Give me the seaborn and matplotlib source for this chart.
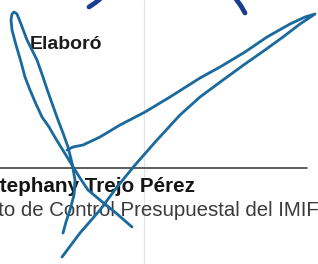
import matplotlib
matplotlib.use("Agg")
import matplotlib.pyplot as plt
import seaborn as sns
import pandas as pd

# ---- data (pixel space: x right, y down) ----
loop_x = [132, 116, 100, 88, 80, 72, 64, 56, 49, 42, 36, 30, 25, 21, 16, 12, 11, 12, 14, 17,
          21, 27, 33, 37, 43, 48, 53, 58, 63, 68, 72, 75, 74, 70, 66, 63]
loop_y = [227, 213, 200, 190, 178, 165, 152, 139, 127, 117, 104, 90, 77, 62, 45, 30, 20, 14, 12, 14,
          24, 40, 52, 60, 77, 92, 106, 120, 133, 147, 163, 180, 195, 210, 222, 233]

sweep_x = [67, 73, 83, 100, 120, 145, 170, 200, 220, 245, 267, 290, 305, 315,
           300, 283, 265, 245, 223, 200, 180, 157, 135, 117, 100, 80, 62]
sweep_y = [150, 147, 145, 137, 125, 112, 97, 78, 67, 52, 37, 24, 17, 14,
           24, 37, 50, 64, 80, 97, 115, 140, 165, 187, 210, 233, 257]

dash1_x = [89, 95, 100]
dash1_y = [7, 3, -1]
dash2_x = [236, 241, 245]
dash2_y = [-1, 6, 13]

label_top = "Elaboró"
label_name = "Stephany Trejo Pérez"
label_role = "Departamento de Control Presupuestal del IMIF"

# ---- figure ----
sns.set_theme(style="white")
plt.rcParams["font.family"] = ["Liberation Sans", "DejaVu Sans"]

W, H, DPI = 318, 264, 100
fig = plt.figure(figsize=(W / DPI, H / DPI), dpi=DPI, facecolor="white")
ax = fig.add_axes([0, 0, 1, 1])
ax.set_xlim(0, W)
ax.set_ylim(H, 0)
ax.axis("off")

px = 72 / DPI  # points per pixel

# faint vertical fold line
ax.axvline(144, color="#e2e2e2", lw=1.2 * px, zorder=0)

# signature line
ax.plot([0, 307], [168, 168], color="#3a3a3a", lw=1.6 * px, zorder=1)

# texts
ax.text(30, 49, label_top, fontsize=19.5 * px, fontweight="bold", color="#1c1c1c",
        ha="left", va="baseline", zorder=2)
ax.text(-14, 192, label_name, fontsize=20.6 * px, fontweight="bold", color="#151515",
        ha="left", va="baseline", zorder=2)
ax.text(318.5, 216, label_role, fontsize=20.35 * px, color="#3a3a3a",
        ha="right", va="baseline", zorder=2)

# signature strokes
sig_color = "#1a6a9e"
for xs, ys in [(loop_x, loop_y), (sweep_x, sweep_y)]:
    df = pd.DataFrame({"x": xs, "y": ys})
    sns.lineplot(data=df, x="x", y="y", sort=False, estimator=None, ax=ax,
                 color=sig_color, linewidth=2.8 * px, solid_capstyle="round",
                 solid_joinstyle="round", zorder=3)

for xs, ys in [(dash1_x, dash1_y), (dash2_x, dash2_y)]:
    df = pd.DataFrame({"x": xs, "y": ys})
    sns.lineplot(data=df, x="x", y="y", sort=False, estimator=None, ax=ax,
                 color="#1b3d8f", linewidth=4.8 * px, solid_capstyle="round", zorder=3)

ax.set_xlim(0, W)
ax.set_ylim(H, 0)
ax.axis("off")
fig.savefig("out.png", dpi=DPI, facecolor="white")
